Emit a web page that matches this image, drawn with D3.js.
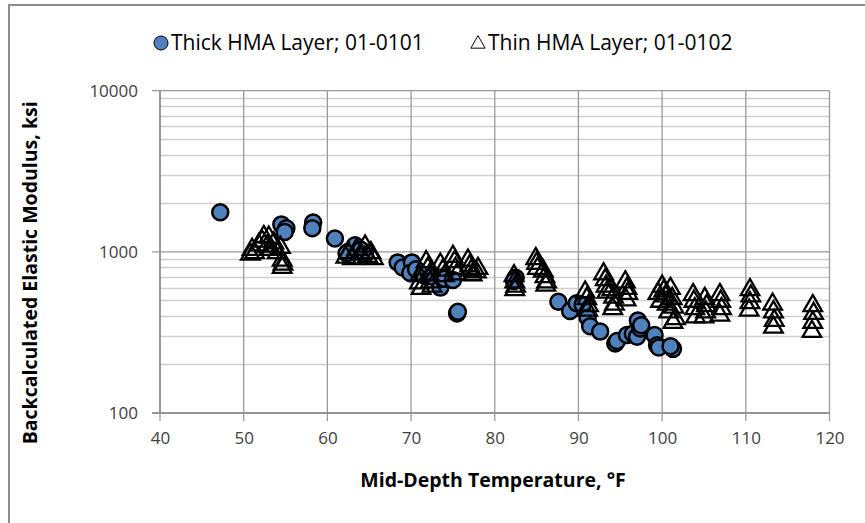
<!DOCTYPE html>
<html><head><meta charset="utf-8">
<script src="https://cdn.jsdelivr.net/npm/d3@7"></script>
<style>
html,body{margin:0;padding:0;background:#fff;}
svg{display:block;font-family:"Open Sans", Lato, sans-serif;}
</style></head>
<body>
<svg id="chart" width="865" height="523"></svg>
<script>
// ---- data ----
const xTicks = [40, 50, 60, 70, 80, 90, 100, 110, 120];
const yTicks = [100, 1000, 10000];
const seriesNames = ["Thick HMA Layer; 01-0101", "Thin HMA Layer; 01-0102"];

// Thick HMA (circles): temperature F, modulus ksi
const thickTemp = [47.2, 54.5, 55.1, 54.9, 58.3, 58.2, 60.9, 62.5, 63.3, 64.0, 64.5, 62.3,
  68.4, 69.0, 70.1, 69.9, 70.6, 71.5, 72.5, 73.5, 74.0, 75.0, 75.5, 75.6,
  82.5, 82.3, 87.6, 89.0, 89.8, 90.5, 91.1, 91.4, 92.6, 94.4, 94.6, 95.8, 96.5,
  97.0, 97.1, 97.4, 97.5, 99.1, 99.4, 99.6, 101.3, 101.0];
const thickMod = [1760, 1480, 1400, 1330, 1520, 1400, 1210, 1000, 1100, 1030, 960, 980,
  860, 800, 860, 740, 780, 720, 700, 600, 680, 670, 415, 425,
  690, 660, 490, 430, 480, 470, 390, 345, 320, 270, 280, 305, 310,
  297, 375, 335, 350, 305, 263, 255, 250, 260];

// Thin HMA (triangles)
const thinTemp = [50.8, 51.0, 51.3, 51.8, 52.2, 52.4, 52.8, 53.0, 53.3, 53.6, 54.0, 54.4, 54.6, 54.7, 54.6,
  62.2, 62.5, 63.0, 63.5, 64.0, 64.5, 64.8, 65.2, 65.5,
  71.0, 71.0, 71.2, 71.8, 72.0, 72.2, 72.3, 72.5, 73.5, 73.8, 74.0, 75.0, 75.2, 75.3, 75.5,
  76.8, 77.0, 77.2, 77.3, 78.0, 77.8,
  82.3, 82.4, 82.5, 82.4, 84.9, 85.0, 85.1, 85.8, 86.0, 86.2, 86.1,
  90.8, 91.0, 91.2, 91.1, 93.0, 93.2, 93.3, 93.4, 94.0, 94.2, 94.3, 94.1,
  95.6, 95.8, 95.9, 95.7,
  99.5, 99.8, 100.0, 100.2, 100.4, 100.6, 100.8, 101.0, 101.2, 101.4, 101.6, 101.3,
  103.7, 103.8, 103.9, 104.0, 105.1, 105.3, 105.2, 105.0, 106.9, 107.0, 107.1, 106.9,
  110.5, 110.6, 110.5, 110.4, 113.2, 113.3, 113.4, 113.3, 118.0, 118.1, 118.0, 117.9];
const thinMod = [980, 1050, 1000, 1120, 1180, 1260, 1100, 1250, 1050, 1150, 1000, 1080, 900, 850, 810,
  940, 1000, 920, 1050, 980, 1100, 950, 1000, 920,
  720, 650, 600, 880, 800, 730, 660, 620, 850, 780, 720, 950, 880, 800, 740,
  900, 830, 780, 730, 800, 760,
  720, 660, 620, 590, 920, 860, 800, 770, 710, 660, 630,
  570, 520, 470, 440, 740, 680, 620, 570, 590, 530, 480, 450,
  660, 600, 560, 510,
  560, 500, 620, 580, 540, 480, 430, 600, 520, 460, 390, 370,
  550, 500, 450, 400, 520, 470, 430, 400, 550, 500, 450, 410,
  590, 540, 490, 440, 480, 430, 380, 345, 470, 420, 370, 325];

// ---- drawing ----
const W = 865, H = 523;
const m = {left: 160, right: 35.5, top: 90.7, bottom: 110};
const FONT = "'Open Sans', Lato, sans-serif";
const svg = d3.select("#chart");

// outer chart border
svg.append("rect").attr("x", 9).attr("y", 5).attr("width", 900).attr("height", 560)
  .attr("fill", "none").attr("stroke", "#8c8c8c").attr("stroke-width", 2);

const x = d3.scaleLinear().domain([40, 120]).range([m.left, W - m.right]);
const y = d3.scaleLog().domain([100, 10000]).range([H - m.bottom, m.top]);

const g = svg.append("g");

// minor horizontal gridlines
const minor = [];
[100, 1000].forEach(d => { for (let k = 2; k <= 9; k++) minor.push(d * k); });
g.selectAll("line.minor").data(minor).join("line")
  .attr("x1", x(40)).attr("x2", x(120))
  .attr("y1", d => Math.round(y(d)) + 0.5).attr("y2", d => Math.round(y(d)) + 0.5)
  .attr("stroke", "#d0d0d0").attr("stroke-width", 1.5);
// major horizontal gridlines
g.selectAll("line.major").data(yTicks).join("line")
  .attr("x1", x(40) - 8).attr("x2", x(120))
  .attr("y1", d => y(d)).attr("y2", d => y(d))
  .attr("stroke", "#9a9a9a").attr("stroke-width", 1.3);
// vertical gridlines
g.selectAll("line.vg").data(xTicks).join("line")
  .attr("x1", d => x(d)).attr("x2", d => x(d))
  .attr("y1", y(10000)).attr("y2", y(100) + 8)
  .attr("stroke", "#9a9a9a").attr("stroke-width", 1.3);

// axes lines
g.append("line").attr("x1", x(40)).attr("x2", x(40)).attr("y1", y(10000)).attr("y2", y(100))
  .attr("stroke", "#8c8c8c").attr("stroke-width", 1.5);
g.append("line").attr("x1", x(40) - 8).attr("x2", x(120)).attr("y1", y(100)).attr("y2", y(100))
  .attr("stroke", "#8c8c8c").attr("stroke-width", 1.5);

// tick labels via axes
const xAxis = d3.axisBottom(x).tickValues(xTicks).tickSize(0).tickPadding(19).tickFormat(d3.format("d"));
const xg = svg.append("g").attr("transform", `translate(0,${y(100)})`).call(xAxis);
const yAxis = d3.axisLeft(y).tickValues(yTicks).tickSize(0).tickPadding(22).tickFormat(d3.format("d"));
const yg = svg.append("g").attr("transform", `translate(${x(40)},0)`).call(yAxis);
[xg, yg].forEach(a => {
  a.select(".domain").remove();
  a.selectAll("text").attr("fill", "#404040").style("font-size", "17px")
    .style("font-family", FONT);
});

// axis titles
svg.append("text").attr("x", 493).attr("y", 487)
  .attr("text-anchor", "middle").attr("font-weight", "bold").attr("font-size", 19.5).attr("fill", "#000")
  .style("font-family", FONT)
  .text("Mid-Depth Temperature, °F");
svg.append("text").attr("transform", `translate(37,${(y(100) + y(10000)) / 2 + 21}) rotate(-90)`)
  .attr("text-anchor", "middle").attr("font-weight", "bold").attr("font-size", 19.5).attr("fill", "#000")
  .style("font-family", FONT)
  .text("Backcalculated Elastic Modulus, ksi");

// data
const thick = thickTemp.map((t, i) => ({t, v: thickMod[i]}));
const thin = thinTemp.map((t, i) => ({t, v: thinMod[i]}));
const tri = d3.symbol().type(d3.symbolTriangle).size(150);

const plot = svg.append("g");
plot.selectAll("circle.thick").data(thick).join("circle")
  .attr("cx", d => x(d.t)).attr("cy", d => y(d.v)).attr("r", 8)
  .attr("fill", "#4F81BD").attr("stroke", "#000").attr("stroke-width", 2.5);
plot.selectAll("path.thin").data(thin).join("path")
  .attr("d", tri)
  .attr("transform", d => `translate(${x(d.t)},${y(d.v) + 1})`)
  .attr("fill", "none").attr("stroke", "#000").attr("stroke-width", 2.3);

// legend
const lg = svg.append("g").style("font-family", FONT);
lg.append("circle").attr("cx", 161).attr("cy", 43).attr("r", 7)
  .attr("fill", "#4F81BD").attr("stroke", "#000").attr("stroke-width", 1);
lg.append("text").attr("x", 171).attr("y", 50).attr("font-size", 21).attr("fill", "#000").text(seriesNames[0]);
lg.append("path").attr("d", d3.symbol().type(d3.symbolTriangle).size(90))
  .attr("transform", "translate(478,44)").attr("fill", "none").attr("stroke", "#000").attr("stroke-width", 1);
lg.append("text").attr("x", 488).attr("y", 50).attr("font-size", 21).attr("fill", "#000").text(seriesNames[1]);
</script>
</body></html>
